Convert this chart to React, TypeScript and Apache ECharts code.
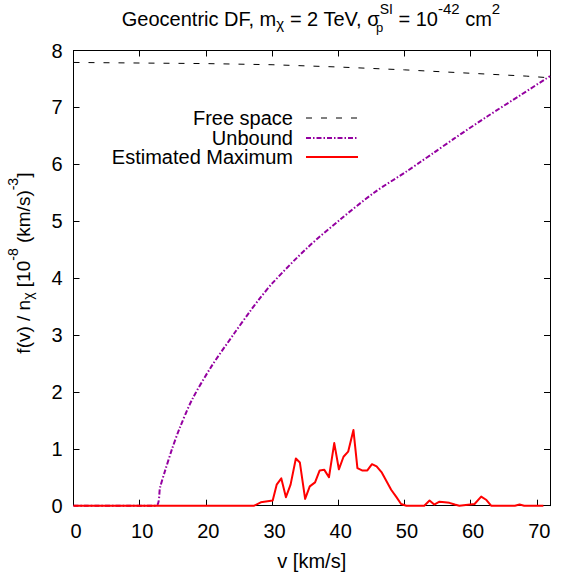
import React, { useEffect, useRef } from "react";
import * as echarts from "echarts";

const freeV = [0, 10, 20, 30, 40, 50, 60, 68.4, 72];
const freeF = [7.79, 7.78, 7.77, 7.75, 7.71, 7.66, 7.6, 7.55, 7.52];

const unbV = [0, 12.4, 13.1, 13.8, 14.9, 16.0, 17.9, 20.8, 24.3, 26.7, 28.0, 30.2, 35.3, 40.3, 45.4, 50.4, 52.4, 54.4, 57.5, 62.5, 67.6, 72];
const unbF = [0, 0, 0.33, 0.6, 1.0, 1.35, 1.86, 2.44, 3.03, 3.42, 3.62, 3.93, 4.53, 5.03, 5.5, 5.88, 6.04, 6.2, 6.45, 6.84, 7.22, 7.55];

const maxV = [0, 27.3, 28.3, 30.1, 30.7, 31.4, 32.1, 32.8, 33.6, 34.2, 35.0, 35.7, 36.5, 37.2, 37.9, 38.6, 39.4, 40.1, 40.8, 41.5, 42.3, 42.9, 43.6, 44.4, 45.1, 45.8, 46.6, 47.3, 48.0, 48.8, 49.5, 50.3, 53.0, 53.8, 54.5, 55.3, 56.1, 56.8, 57.6, 58.3, 60.6, 61.6, 62.4, 63.1, 66.7, 67.4, 68.1, 71.0];
const maxF = [0, 0, 0.06, 0.09, 0.37, 0.48, 0.15, 0.37, 0.83, 0.76, 0.12, 0.34, 0.41, 0.62, 0.63, 0.5, 1.1, 0.64, 0.86, 0.95, 1.33, 0.66, 0.62, 0.62, 0.73, 0.69, 0.58, 0.43, 0.28, 0.15, 0.03, 0, 0, 0.09, 0.02, 0.07, 0.06, 0.05, 0.02, 0, 0.03, 0.16, 0.1, 0, 0, 0.02, 0, 0];

const legendNames = ["Free space", "Unbound", "Estimated Maximum"];

const FONT = "Liberation Sans, Arial, Helvetica, sans-serif";
const FS = 20;
const SFS = 15;
const PURPLE = "#9400a0";
const DASH_FREE = [6, 9];
const DASH_UNB = [5, 2, 1.5, 2];

const zip = (a: number[], b: number[]) => a.map((v, i) => [v, b[i]]);

const mkRich = (fs: number, sfs: number) => ({
  n: { fontFamily: FONT, fontSize: fs, color: "#000", lineHeight: 22, padding: [0, 0, 5, 0], verticalAlign: "bottom" },
  sub: { fontFamily: FONT, fontSize: sfs, color: "#000", lineHeight: 14, padding: [0, 0, 3, 0], verticalAlign: "bottom" },
  sub0: { fontFamily: FONT, fontSize: 13, color: "#000", lineHeight: 14, padding: [0, 0, 0, 0], verticalAlign: "bottom", width: 0.01 },
  sup: { fontFamily: FONT, fontSize: sfs, color: "#000", lineHeight: 14, padding: [0, 0, 18, 0], verticalAlign: "bottom" },
  supS: { fontFamily: FONT, fontSize: 14, color: "#000", lineHeight: 14, padding: [0, 0, 18, 0], verticalAlign: "bottom" },
});

export default function App() {
  const ref = useRef<HTMLDivElement>(null);
  useEffect(() => {
    if (!ref.current) return;
    const chart = echarts.init(ref.current, undefined, { renderer: "svg" });
    const base = { fontFamily: FONT, fontSize: FS, color: "#000" };
    const richTitle = mkRich(FS, SFS);
    const richY = mkRich(19, 14);
    const axisCommon = {
      type: "value",
      axisLine: { show: true, onZero: false, lineStyle: { color: "#000", width: 1 } },
      axisTick: { show: true, inside: true, length: 6, lineStyle: { color: "#000", width: 1 } },
      splitLine: { show: false },
    };
    const yName = "{n|f(v) / n}{sub|χ}{n| [10}{sup|-8}{n| (km/s)}{sup|-3}{n|]}";
    const title = "{n|Geocentric DF, m}{sub|χ}{n| = 2 TeV, σ}{sub0|p}{supS|SI}{n| = 10}{sup|-42}{n| cm}{sup|2}";
    const legendY = [118, 138, 157];
    const option: any = {
      animation: false,
      backgroundColor: "#fff",
      grid: { left: 73.5, right: 19, top: 50.5, bottom: 67.3, containLabel: false, outerBoundsMode: "none" },
      xAxis: [
        {
          ...axisCommon,
          position: "bottom",
          min: 0,
          max: 72,
          interval: 10,
          axisLabel: { ...base, margin: 15, showMaxLabel: false, padding: [0, 0, 0, 5] },
          name: "v [km/s]",
          nameLocation: "middle",
          nameGap: 45,
          nameTextStyle: { ...base },
        },
        {
          ...axisCommon,
          position: "top",
          min: 0,
          max: 72,
          interval: 10,
          axisLabel: { show: false },
        },
      ],
      yAxis: [
        {
          ...axisCommon,
          position: "left",
          min: 0,
          max: 8,
          interval: 1,
          axisLabel: { ...base, margin: 11 },
          name: yName,
          nameLocation: "middle",
          nameGap: 36,
          nameRotate: 90,
          nameMoveOverlap: false,
          nameTextStyle: { ...base, fontSize: 19, rich: richY, padding: [0, 0, 0, 30] },
        },
        {
          ...axisCommon,
          position: "right",
          min: 0,
          max: 8,
          interval: 1,
          axisLabel: { show: false },
        },
      ],
      series: [
        {
          name: legendNames[0],
          type: "line",
          data: zip(freeV, freeF),
          symbol: "none",
          smooth: false,
          clip: false,
          lineStyle: { color: "#000", width: 1, type: DASH_FREE },
        },
        {
          name: legendNames[1],
          type: "line",
          data: zip(unbV, unbF),
          symbol: "none",
          smooth: 0.3,
          clip: false,
          lineStyle: { color: PURPLE, width: 2, type: DASH_UNB, cap: "butt" },
        },
        {
          name: legendNames[2],
          type: "line",
          data: zip(maxV, maxF),
          symbol: "none",
          clip: false,
          lineStyle: { color: "#ff0000", width: 2, join: "round" },
        },
      ],
      graphic: [
        {
          type: "text",
          x: 311,
          y: 23,
          style: { text: title, rich: richTitle, align: "center", verticalAlign: "middle", fill: "#000", font: `${FS}px ${FONT}` },
        },
        ...legendNames.map((nm, i) => ({
          type: "text",
          x: 293,
          y: legendY[i],
          style: { text: nm, align: "right", verticalAlign: "middle", fill: "#000", font: `${FS}px ${FONT}`, lineHeight: 18 },
        })),
        {
          type: "line",
          shape: { x1: 306, y1: legendY[0], x2: 358, y2: legendY[0] },
          style: { stroke: "#000", lineWidth: 1, lineDash: DASH_FREE },
        },
        {
          type: "line",
          shape: { x1: 306, y1: legendY[1], x2: 358, y2: legendY[1] },
          style: { stroke: PURPLE, lineWidth: 2, lineDash: DASH_UNB },
        },
        {
          type: "line",
          shape: { x1: 306, y1: legendY[2], x2: 358, y2: legendY[2] },
          style: { stroke: "#ff0000", lineWidth: 2 },
        },
      ],
    };
    chart.setOption(option);
    return () => chart.dispose();
  }, []);
  return <div ref={ref} style={{ width: 569, height: 573, position: "absolute", left: 0, top: 0 }} />;
}
